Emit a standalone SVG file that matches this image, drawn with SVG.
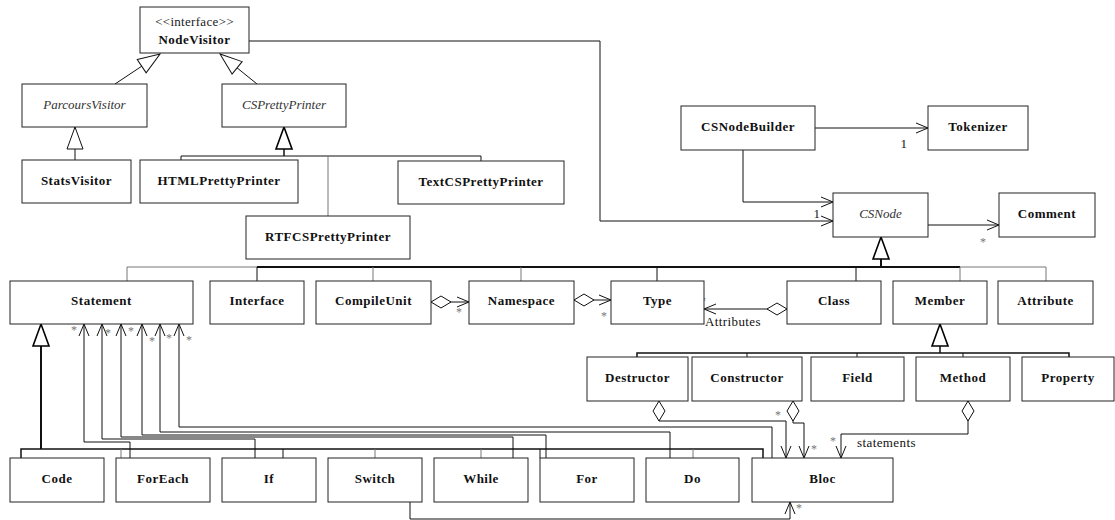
<svg xmlns="http://www.w3.org/2000/svg" width="1115" height="520" viewBox="0 0 1115 520">
<style>
.box{fill:#fff;stroke:#222;stroke-width:1}
.t{font-family:"Liberation Serif","Times New Roman",serif;font-size:13px;font-weight:bold;text-anchor:middle;letter-spacing:0.5px;fill:#111}
.ti{font-style:italic;font-weight:normal;fill:#333;letter-spacing:0}
.st{font-weight:normal;letter-spacing:0.3px;fill:#222}
.c{fill:none;stroke:#111;stroke-width:1}
.g{stroke:#777}
.w15{stroke-width:1.5}
.w2{stroke-width:2}
.lbl{font-family:"Liberation Serif","Times New Roman",serif;font-size:13px;fill:#111;letter-spacing:0.4px}
.star{font-family:"Liberation Serif","Times New Roman",serif;font-size:12px;fill:#777;text-anchor:middle}
</style>
<defs>
<marker id="gen" markerUnits="userSpaceOnUse" markerWidth="24" markerHeight="20" viewBox="-1 -1 24 18" refX="22" refY="8" orient="auto" overflow="visible">
<path d="M0,0 L22,8 L0,16 Z" fill="#fff" stroke="#111" stroke-width="1"/>
</marker>
<marker id="genb" markerUnits="userSpaceOnUse" markerWidth="24" markerHeight="20" viewBox="-1 -1 24 18" refX="22" refY="8" orient="auto" overflow="visible">
<path d="M0,0 L22,8 L0,16 Z" fill="#fff" stroke="#000" stroke-width="1.6"/>
</marker>
<marker id="arr" markerUnits="userSpaceOnUse" markerWidth="14" markerHeight="12" viewBox="-1 -1 14 12" refX="12" refY="5" orient="auto" overflow="visible">
<path d="M0,0 L12,5 L0,10" fill="none" stroke="#111" stroke-width="1"/>
</marker>
<marker id="dia" markerUnits="userSpaceOnUse" markerWidth="22" markerHeight="14" viewBox="-1 -1 22 14" refX="0" refY="6" orient="auto" overflow="visible">
<path d="M0,6 L10,0 L20,6 L10,12 Z" fill="#fff" stroke="#111" stroke-width="1"/>
</marker>
</defs>

<g id="connectors">
<!-- generalizations to NodeVisitor -->
<path class="c" d="M115,84 L160,54" marker-end="url(#gen)"/>
<path class="c" d="M257,84 L220,54" marker-end="url(#gen)"/>
<!-- StatsVisitor -> ParcoursVisitor -->
<path class="c" d="M75,160 V127" marker-end="url(#gen)"/>
<!-- CSPrettyPrinter subclasses -->
<path class="c w15" d="M284,156 V127" marker-end="url(#genb)"/>
<path class="c" d="M181,160 V156 H481 V161"/>
<path class="c g" d="M328,156 V216"/>
<!-- NodeVisitor -> CSNode -->
<path class="c" d="M249,41 H600 V221 H833" marker-end="url(#arr)"/>
<!-- CSNodeBuilder -> Tokenizer -->
<path class="c" d="M815,128 H928" marker-end="url(#arr)"/>
<!-- CSNodeBuilder -> CSNode -->
<path class="c" d="M743,150 V202 H833" marker-end="url(#arr)"/>
<!-- CSNode -> Comment -->
<path class="c" d="M928,225 H999" marker-end="url(#arr)"/>
<!-- CSNode generalization bus -->
<path class="c w2" d="M881,267 V237" marker-end="url(#genb)"/>
<path class="c w2" d="M257,267 H960"/>
<path class="c g" d="M127,281 V267 H257"/>
<path class="c g" d="M960,267 H1046 V281"/>
<path class="c" d="M257,267 V281"/>
<path class="c g" d="M373,267 V281"/>
<path class="c g" d="M521,267 V281"/>
<path class="c" d="M657,267 V281"/>
<path class="c" d="M856,267 V281"/>
<path class="c g" d="M960,267 V281"/>
<!-- aggregations -->
<path class="c" d="M431,302 H469" marker-start="url(#dia)" marker-end="url(#arr)"/>
<path class="c" d="M574,300 H611" marker-start="url(#dia)" marker-end="url(#arr)"/>
<path class="c" d="M787,309 H704" marker-start="url(#dia)" marker-end="url(#arr)"/>
<!-- Member generalization -->
<path class="c w15" d="M940,353 V324" marker-end="url(#genb)"/>
<path class="c w15" d="M637,357 V353 H1069 V357"/>
<path class="c" d="M747,353 V357"/>
<path class="c" d="M857,353 V357"/>
<path class="c" d="M963,353 V357"/>
<!-- Statement generalization -->
<path class="c w2" d="M41,449 V324" marker-end="url(#genb)"/>
<path class="c w15" d="M21,458 V449 H763 V458"/>
<path class="c g" d="M121,449 V458"/>
<path class="c" d="M283,449 V458"/>
<path class="c g" d="M375,449 V458"/>
<path class="c g" d="M481,449 V458"/>
<path class="c" d="M540,449 V458"/>
<path class="c g" d="M693,449 V458"/>
<!-- associations to Statement -->
<path class="c" d="M130,458 V442 H84 V324" marker-end="url(#arr)"/>
<path class="c" d="M255,458 V439 H102 V324" marker-end="url(#arr)"/>
<path class="c" d="M513,458 V437 H121 V324" marker-end="url(#arr)"/>
<path class="c" d="M546,458 V435 H142 V324" marker-end="url(#arr)"/>
<path class="c" d="M670,458 V432 H160 V324" marker-end="url(#arr)"/>
<path class="c" d="M772,458 V427 H179 V324" marker-end="url(#arr)"/>
<!-- associations to Bloc -->
<path class="c" d="M659,401 V421 H786 V458" marker-start="url(#dia)" marker-end="url(#arr)"/>
<path class="c" d="M793,401 V423 H804 V458" marker-start="url(#dia)" marker-end="url(#arr)"/>
<path class="c" d="M968,401 V434 H841 V458" marker-start="url(#dia)" marker-end="url(#arr)"/>
<path class="c" d="M410,502 V519 H790 V502" marker-end="url(#arr)"/>
</g>

<g id="labels">
<text class="lbl" x="904" y="148" text-anchor="middle">1</text>
<text class="lbl" x="817" y="218" text-anchor="middle">1</text>
<text class="star" x="983" y="246">*</text>
<text class="star" x="459" y="316">*</text>
<text class="star" x="604" y="320">*</text>
<text class="star" x="703" y="305">*</text>
<text class="lbl" x="705" y="326">Attributes</text>
<text class="star" x="74" y="334">*</text>
<text class="star" x="108" y="337">*</text>
<text class="star" x="131" y="335">*</text>
<text class="star" x="152" y="345">*</text>
<text class="star" x="169" y="342">*</text>
<text class="star" x="189" y="344">*</text>
<text class="star" x="778" y="419">*</text>
<text class="star" x="814" y="453">*</text>
<text class="star" x="833" y="445">*</text>
<text class="lbl" x="857" y="447">statements</text>
<text class="star" x="799" y="512">*</text>
</g>

<g id="NodeVisitor"><rect class="box" x="140" y="7" width="109" height="46"/><text class="t st" x="194.5" y="26">&lt;&lt;interface&gt;&gt;</text><text class="t" x="194.5" y="44">NodeVisitor</text></g>
<g id="ParcoursVisitor"><rect class="box" x="22" y="84" width="125" height="43"/><text class="t ti" x="84.5" y="109">ParcoursVisitor</text></g>
<g id="CSPrettyPrinter"><rect class="box" x="222" y="84" width="124" height="43"/><text class="t ti" x="284" y="109">CSPrettyPrinter</text></g>
<g id="StatsVisitor"><rect class="box" x="22" y="160" width="109" height="43"/><text class="t" x="76.5" y="185">StatsVisitor</text></g>
<g id="HTMLPrettyPrinter"><rect class="box" x="140" y="160" width="158" height="43"/><text class="t" x="219" y="185">HTMLPrettyPrinter</text></g>
<g id="TextCSPrettyPrinter"><rect class="box" x="398" y="161" width="166" height="43"/><text class="t" x="481" y="186">TextCSPrettyPrinter</text></g>
<g id="RTFCSPrettyPrinter"><rect class="box" x="246" y="216" width="164" height="43"/><text class="t" x="328" y="241">RTFCSPrettyPrinter</text></g>
<g id="CSNodeBuilder"><rect class="box" x="681" y="106" width="134" height="44"/><text class="t" x="748" y="131">CSNodeBuilder</text></g>
<g id="Tokenizer"><rect class="box" x="928" y="106" width="100" height="44"/><text class="t" x="978" y="131">Tokenizer</text></g>
<g id="CSNode"><rect class="box" x="833" y="193" width="95" height="44"/><text class="t ti" x="880.5" y="218">CSNode</text></g>
<g id="Comment"><rect class="box" x="999" y="193" width="96" height="44"/><text class="t" x="1047" y="218">Comment</text></g>
<g id="Statement"><rect class="box" x="10" y="281" width="183" height="43"/><text class="t" x="101.5" y="305">Statement</text></g>
<g id="Interface"><rect class="box" x="210" y="281" width="94" height="43"/><text class="t" x="257" y="305">Interface</text></g>
<g id="CompileUnit"><rect class="box" x="316" y="281" width="115" height="43"/><text class="t" x="373.5" y="305">CompileUnit</text></g>
<g id="Namespace"><rect class="box" x="469" y="281" width="105" height="43"/><text class="t" x="521.5" y="305">Namespace</text></g>
<g id="Type"><rect class="box" x="611" y="281" width="93" height="43"/><text class="t" x="657.5" y="305">Type</text></g>
<g id="Class"><rect class="box" x="787" y="281" width="94" height="43"/><text class="t" x="834" y="305">Class</text></g>
<g id="Member"><rect class="box" x="893" y="281" width="94" height="43"/><text class="t" x="940" y="305">Member</text></g>
<g id="Attribute"><rect class="box" x="998" y="281" width="95" height="43"/><text class="t" x="1045.5" y="305">Attribute</text></g>
<g id="Destructor"><rect class="box" x="587" y="357" width="101" height="44"/><text class="t" x="637.5" y="382">Destructor</text></g>
<g id="Constructor"><rect class="box" x="692" y="357" width="110" height="44"/><text class="t" x="747" y="382">Constructor</text></g>
<g id="Field"><rect class="box" x="811" y="357" width="93" height="44"/><text class="t" x="857.5" y="382">Field</text></g>
<g id="Method"><rect class="box" x="916" y="357" width="94" height="44"/><text class="t" x="963" y="382">Method</text></g>
<g id="Property"><rect class="box" x="1022" y="357" width="92" height="44"/><text class="t" x="1068" y="382">Property</text></g>
<g id="Code"><rect class="box" x="10" y="458" width="94" height="44"/><text class="t" x="57" y="483">Code</text></g>
<g id="ForEach"><rect class="box" x="116" y="458" width="94" height="44"/><text class="t" x="163" y="483">ForEach</text></g>
<g id="If"><rect class="box" x="222" y="458" width="94" height="44"/><text class="t" x="269" y="483">If</text></g>
<g id="Switch"><rect class="box" x="328" y="458" width="94" height="44"/><text class="t" x="375" y="483">Switch</text></g>
<g id="While"><rect class="box" x="434" y="458" width="94" height="44"/><text class="t" x="481" y="483">While</text></g>
<g id="For"><rect class="box" x="540" y="458" width="94" height="44"/><text class="t" x="587" y="483">For</text></g>
<g id="Do"><rect class="box" x="646" y="458" width="93" height="44"/><text class="t" x="692.5" y="483">Do</text></g>
<g id="Bloc"><rect class="box" x="752" y="458" width="141" height="44"/><text class="t" x="822.5" y="483">Bloc</text></g>
</svg>
